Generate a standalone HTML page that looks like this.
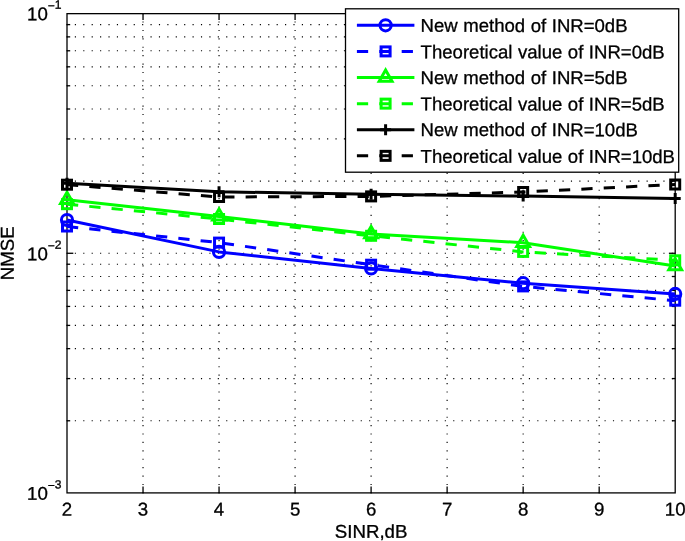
<!DOCTYPE html><html><head><meta charset="utf-8"><title>NMSE vs SINR</title><style>html,body{margin:0;padding:0;background:#fff}svg{display:block}text{font-family:"Liberation Sans",sans-serif;fill:#000;stroke:#000;stroke-width:0.3px}</style></head><body>
<svg width="685" height="541" viewBox="0 0 685 541">
<rect x="0" y="0" width="685" height="541" fill="#fff"/>
<g stroke="#000" stroke-width="1.15" stroke-dasharray="1.15 7.258" fill="none">
<line x1="143.03" y1="493.47" x2="143.03" y2="13.65"/>
<line x1="219.05" y1="493.47" x2="219.05" y2="13.65"/>
<line x1="295.08" y1="493.47" x2="295.08" y2="13.65"/>
<line x1="371.10" y1="493.47" x2="371.10" y2="13.65"/>
<line x1="447.12" y1="493.47" x2="447.12" y2="13.65"/>
<line x1="523.15" y1="493.47" x2="523.15" y2="13.65"/>
<line x1="599.18" y1="493.47" x2="599.18" y2="13.65"/>
<line x1="66.42" y1="420.77" x2="675.20" y2="420.77"/>
<line x1="66.42" y1="378.57" x2="675.20" y2="378.57"/>
<line x1="66.42" y1="348.63" x2="675.20" y2="348.63"/>
<line x1="66.42" y1="325.41" x2="675.20" y2="325.41"/>
<line x1="66.42" y1="306.44" x2="675.20" y2="306.44"/>
<line x1="66.42" y1="290.39" x2="675.20" y2="290.39"/>
<line x1="66.42" y1="276.50" x2="675.20" y2="276.50"/>
<line x1="66.42" y1="264.24" x2="675.20" y2="264.24"/>
<line x1="66.42" y1="181.14" x2="675.20" y2="181.14"/>
<line x1="66.42" y1="138.94" x2="675.20" y2="138.94"/>
<line x1="66.42" y1="109.01" x2="675.20" y2="109.01"/>
<line x1="66.42" y1="85.78" x2="675.20" y2="85.78"/>
<line x1="66.42" y1="66.81" x2="675.20" y2="66.81"/>
<line x1="66.42" y1="50.77" x2="675.20" y2="50.77"/>
<line x1="66.42" y1="36.87" x2="675.20" y2="36.87"/>
<line x1="66.42" y1="24.61" x2="675.20" y2="24.61"/>
<line x1="66.42" y1="253.28" x2="675.20" y2="253.28"/>
</g>
<rect x="67.0" y="13.65" width="608.20" height="479.25" fill="none" stroke="#000" stroke-width="1.3"/>
<g stroke="#000" stroke-width="1.3">
<line x1="143.03" y1="492.9" x2="143.03" y2="486.59999999999997"/>
<line x1="143.03" y1="13.65" x2="143.03" y2="19.95"/>
<line x1="219.05" y1="492.9" x2="219.05" y2="486.59999999999997"/>
<line x1="219.05" y1="13.65" x2="219.05" y2="19.95"/>
<line x1="295.08" y1="492.9" x2="295.08" y2="486.59999999999997"/>
<line x1="295.08" y1="13.65" x2="295.08" y2="19.95"/>
<line x1="371.10" y1="492.9" x2="371.10" y2="486.59999999999997"/>
<line x1="371.10" y1="13.65" x2="371.10" y2="19.95"/>
<line x1="447.12" y1="492.9" x2="447.12" y2="486.59999999999997"/>
<line x1="447.12" y1="13.65" x2="447.12" y2="19.95"/>
<line x1="523.15" y1="492.9" x2="523.15" y2="486.59999999999997"/>
<line x1="523.15" y1="13.65" x2="523.15" y2="19.95"/>
<line x1="599.18" y1="492.9" x2="599.18" y2="486.59999999999997"/>
<line x1="599.18" y1="13.65" x2="599.18" y2="19.95"/>
<line x1="67.0" y1="253.28" x2="73.3" y2="253.28"/>
<line x1="675.2" y1="253.28" x2="668.9000000000001" y2="253.28"/>
<line x1="67.0" y1="420.77" x2="70.2" y2="420.77"/>
<line x1="675.2" y1="420.77" x2="672.0" y2="420.77"/>
<line x1="67.0" y1="378.57" x2="70.2" y2="378.57"/>
<line x1="675.2" y1="378.57" x2="672.0" y2="378.57"/>
<line x1="67.0" y1="348.63" x2="70.2" y2="348.63"/>
<line x1="675.2" y1="348.63" x2="672.0" y2="348.63"/>
<line x1="67.0" y1="325.41" x2="70.2" y2="325.41"/>
<line x1="675.2" y1="325.41" x2="672.0" y2="325.41"/>
<line x1="67.0" y1="306.44" x2="70.2" y2="306.44"/>
<line x1="675.2" y1="306.44" x2="672.0" y2="306.44"/>
<line x1="67.0" y1="290.39" x2="70.2" y2="290.39"/>
<line x1="675.2" y1="290.39" x2="672.0" y2="290.39"/>
<line x1="67.0" y1="276.50" x2="70.2" y2="276.50"/>
<line x1="675.2" y1="276.50" x2="672.0" y2="276.50"/>
<line x1="67.0" y1="264.24" x2="70.2" y2="264.24"/>
<line x1="675.2" y1="264.24" x2="672.0" y2="264.24"/>
<line x1="67.0" y1="181.14" x2="70.2" y2="181.14"/>
<line x1="675.2" y1="181.14" x2="672.0" y2="181.14"/>
<line x1="67.0" y1="138.94" x2="70.2" y2="138.94"/>
<line x1="675.2" y1="138.94" x2="672.0" y2="138.94"/>
<line x1="67.0" y1="109.01" x2="70.2" y2="109.01"/>
<line x1="675.2" y1="109.01" x2="672.0" y2="109.01"/>
<line x1="67.0" y1="85.78" x2="70.2" y2="85.78"/>
<line x1="675.2" y1="85.78" x2="672.0" y2="85.78"/>
<line x1="67.0" y1="66.81" x2="70.2" y2="66.81"/>
<line x1="675.2" y1="66.81" x2="672.0" y2="66.81"/>
<line x1="67.0" y1="50.77" x2="70.2" y2="50.77"/>
<line x1="675.2" y1="50.77" x2="672.0" y2="50.77"/>
<line x1="67.0" y1="36.87" x2="70.2" y2="36.87"/>
<line x1="675.2" y1="36.87" x2="672.0" y2="36.87"/>
<line x1="67.0" y1="24.61" x2="70.2" y2="24.61"/>
<line x1="675.2" y1="24.61" x2="672.0" y2="24.61"/>
</g>
<g font-size="18.5" text-anchor="middle">
<text transform="translate(67.00,515.5) rotate(0.05) scale(1.01,1)">2</text>
<text transform="translate(143.03,515.5) rotate(0.05) scale(1.01,1)">3</text>
<text transform="translate(219.05,515.5) rotate(0.05) scale(1.01,1)">4</text>
<text transform="translate(295.08,515.5) rotate(0.05) scale(1.01,1)">5</text>
<text transform="translate(371.10,515.5) rotate(0.05) scale(1.01,1)">6</text>
<text transform="translate(447.12,515.5) rotate(0.05) scale(1.01,1)">7</text>
<text transform="translate(523.15,515.5) rotate(0.05) scale(1.01,1)">8</text>
<text transform="translate(599.18,515.5) rotate(0.05) scale(1.01,1)">9</text>
<text transform="translate(675.20,515.5) rotate(0.05) scale(1.01,1)">10</text>
</g>
<text transform="translate(27,20.25) rotate(0.05) scale(1.01,1)" font-size="18.5">10</text>
<text transform="translate(47.7,8.80) rotate(0.05) scale(1.01,1)" font-size="12.0"><tspan dy="1">−</tspan><tspan dy="-1">1</tspan></text>
<text transform="translate(27,260.23) rotate(0.05) scale(1.01,1)" font-size="18.5">10</text>
<text transform="translate(47.7,248.78) rotate(0.05) scale(1.01,1)" font-size="12.0"><tspan dy="1">−</tspan><tspan dy="-1">2</tspan></text>
<text transform="translate(27,499.85) rotate(0.05) scale(1.01,1)" font-size="18.5">10</text>
<text transform="translate(47.7,488.40) rotate(0.05) scale(1.01,1)" font-size="12.0"><tspan dy="1">−</tspan><tspan dy="-1">3</tspan></text>
<text transform="translate(371.10,537.8) rotate(0.05) scale(1.01,1)" font-size="18.5" text-anchor="middle">SINR,dB</text>
<text transform="translate(13.7,253.27) rotate(-90.05)" font-size="18.65" text-anchor="middle">NMSE</text>
<polyline points="67.00,220.00 219.05,251.90 371.10,268.40 523.15,283.20 675.20,293.90" fill="none" stroke="#0000ff" stroke-width="3.0" stroke-linejoin="round"/>
<circle cx="67.00" cy="220.00" r="5.6" fill="none" stroke="#0000ff" stroke-width="3.0"/>
<circle cx="219.05" cy="251.90" r="5.6" fill="none" stroke="#0000ff" stroke-width="3.0"/>
<circle cx="371.10" cy="268.40" r="5.6" fill="none" stroke="#0000ff" stroke-width="3.0"/>
<circle cx="523.15" cy="283.20" r="5.6" fill="none" stroke="#0000ff" stroke-width="3.0"/>
<circle cx="675.20" cy="293.90" r="5.6" fill="none" stroke="#0000ff" stroke-width="3.0"/>
<polyline points="67.00,226.50 219.05,242.60 371.10,264.70 523.15,286.40 675.20,300.70" fill="none" stroke="#0000ff" stroke-width="3.0" stroke-linejoin="round" stroke-dasharray="11.25 11.14"/>
<rect x="62.50" y="222.00" width="9.0" height="9.0" fill="none" stroke="#0000ff" stroke-width="3.0"/>
<rect x="214.55" y="238.10" width="9.0" height="9.0" fill="none" stroke="#0000ff" stroke-width="3.0"/>
<rect x="366.60" y="260.20" width="9.0" height="9.0" fill="none" stroke="#0000ff" stroke-width="3.0"/>
<rect x="518.65" y="281.90" width="9.0" height="9.0" fill="none" stroke="#0000ff" stroke-width="3.0"/>
<rect x="670.70" y="296.20" width="9.0" height="9.0" fill="none" stroke="#0000ff" stroke-width="3.0"/>
<polyline points="67.00,199.70 219.05,216.40 371.10,234.00 523.15,242.70 675.20,266.00" fill="none" stroke="#00ff00" stroke-width="3.0" stroke-linejoin="round"/>
<path d="M67.00 192.30L73.41 203.40L60.59 203.40Z" fill="none" stroke="#00ff00" stroke-width="3.0" stroke-linejoin="miter"/>
<path d="M219.05 209.00L225.46 220.10L212.64 220.10Z" fill="none" stroke="#00ff00" stroke-width="3.0" stroke-linejoin="miter"/>
<path d="M371.10 226.60L377.51 237.70L364.69 237.70Z" fill="none" stroke="#00ff00" stroke-width="3.0" stroke-linejoin="miter"/>
<path d="M523.15 235.30L529.56 246.40L516.74 246.40Z" fill="none" stroke="#00ff00" stroke-width="3.0" stroke-linejoin="miter"/>
<path d="M675.20 258.60L681.61 269.70L668.79 269.70Z" fill="none" stroke="#00ff00" stroke-width="3.0" stroke-linejoin="miter"/>
<polyline points="67.00,204.20 219.05,219.00 371.10,235.80 523.15,251.90 675.20,260.30" fill="none" stroke="#00ff00" stroke-width="3.0" stroke-linejoin="round" stroke-dasharray="11.25 11.14"/>
<rect x="62.50" y="199.70" width="9.0" height="9.0" fill="none" stroke="#00ff00" stroke-width="3.0"/>
<rect x="214.55" y="214.50" width="9.0" height="9.0" fill="none" stroke="#00ff00" stroke-width="3.0"/>
<rect x="366.60" y="231.30" width="9.0" height="9.0" fill="none" stroke="#00ff00" stroke-width="3.0"/>
<rect x="518.65" y="247.40" width="9.0" height="9.0" fill="none" stroke="#00ff00" stroke-width="3.0"/>
<rect x="670.70" y="255.80" width="9.0" height="9.0" fill="none" stroke="#00ff00" stroke-width="3.0"/>
<polyline points="67.00,183.20 219.05,191.80 371.10,194.20 523.15,196.10 675.20,198.50" fill="none" stroke="#000000" stroke-width="3.0" stroke-linejoin="round"/>
<path d="M61.50 183.20H72.50M67.00 177.70V188.70" fill="none" stroke="#000000" stroke-width="3.0"/>
<path d="M213.55 191.80H224.55M219.05 186.30V197.30" fill="none" stroke="#000000" stroke-width="3.0"/>
<path d="M365.60 194.20H376.60M371.10 188.70V199.70" fill="none" stroke="#000000" stroke-width="3.0"/>
<path d="M517.65 196.10H528.65M523.15 190.60V201.60" fill="none" stroke="#000000" stroke-width="3.0"/>
<path d="M669.70 198.50H680.70M675.20 193.00V204.00" fill="none" stroke="#000000" stroke-width="3.0"/>
<polyline points="67.00,184.70 219.05,197.00 371.10,196.40 523.15,192.00 675.20,184.50" fill="none" stroke="#000000" stroke-width="3.0" stroke-linejoin="round" stroke-dasharray="11.25 11.14"/>
<rect x="62.50" y="180.20" width="9.0" height="9.0" fill="none" stroke="#000000" stroke-width="3.0"/>
<rect x="214.55" y="192.50" width="9.0" height="9.0" fill="none" stroke="#000000" stroke-width="3.0"/>
<rect x="366.60" y="191.90" width="9.0" height="9.0" fill="none" stroke="#000000" stroke-width="3.0"/>
<rect x="518.65" y="187.50" width="9.0" height="9.0" fill="none" stroke="#000000" stroke-width="3.0"/>
<rect x="670.70" y="180.00" width="9.0" height="9.0" fill="none" stroke="#000000" stroke-width="3.0"/>
<rect x="345.5" y="8.8" width="333.20" height="163.40" fill="#fff" stroke="#000" stroke-width="1.3"/>
<line x1="356.9" y1="25.30" x2="414.4" y2="25.30" stroke="#0000ff" stroke-width="3.0"/>
<circle cx="385.60" cy="25.30" r="5.6" fill="none" stroke="#0000ff" stroke-width="3.0"/>
<text transform="translate(420.6,31.80) rotate(0.05) scale(1.004,1)" font-size="18.5" word-spacing="0.4">New method of INR=0dB</text>
<line x1="356.9" y1="51.41" x2="414.4" y2="51.41" stroke="#0000ff" stroke-width="3.0" stroke-dasharray="11.25 11.14"/>
<rect x="381.10" y="46.91" width="9.0" height="9.0" fill="none" stroke="#0000ff" stroke-width="3.0"/>
<text transform="translate(420.6,58.20) rotate(0.05) scale(1.004,1)" font-size="18.5" word-spacing="0.4">Theoretical value of INR=0dB</text>
<line x1="356.9" y1="77.52" x2="414.4" y2="77.52" stroke="#00ff00" stroke-width="3.0"/>
<path d="M385.60 70.12L392.01 81.22L379.19 81.22Z" fill="none" stroke="#00ff00" stroke-width="3.0" stroke-linejoin="miter"/>
<text transform="translate(420.6,83.90) rotate(0.05) scale(1.004,1)" font-size="18.5" word-spacing="0.4">New method of INR=5dB</text>
<line x1="356.9" y1="103.63" x2="414.4" y2="103.63" stroke="#00ff00" stroke-width="3.0" stroke-dasharray="11.25 11.14"/>
<rect x="381.10" y="99.13" width="9.0" height="9.0" fill="none" stroke="#00ff00" stroke-width="3.0"/>
<text transform="translate(420.6,110.30) rotate(0.05) scale(1.004,1)" font-size="18.5" word-spacing="0.4">Theoretical value of INR=5dB</text>
<line x1="356.9" y1="129.74" x2="414.4" y2="129.74" stroke="#000000" stroke-width="3.0"/>
<path d="M380.10 129.74H391.10M385.60 124.24V135.24" fill="none" stroke="#000000" stroke-width="3.0"/>
<text transform="translate(420.6,136.00) rotate(0.05) scale(1.004,1)" font-size="18.5" word-spacing="0.4">New method of INR=10dB</text>
<line x1="356.9" y1="155.85" x2="414.4" y2="155.85" stroke="#000000" stroke-width="3.0" stroke-dasharray="11.25 11.14"/>
<rect x="381.10" y="151.35" width="9.0" height="9.0" fill="none" stroke="#000000" stroke-width="3.0"/>
<text transform="translate(420.6,162.70) rotate(0.05) scale(1.004,1)" font-size="18.5" word-spacing="0.4">Theoretical value of INR=10dB</text>
</svg></body></html>
